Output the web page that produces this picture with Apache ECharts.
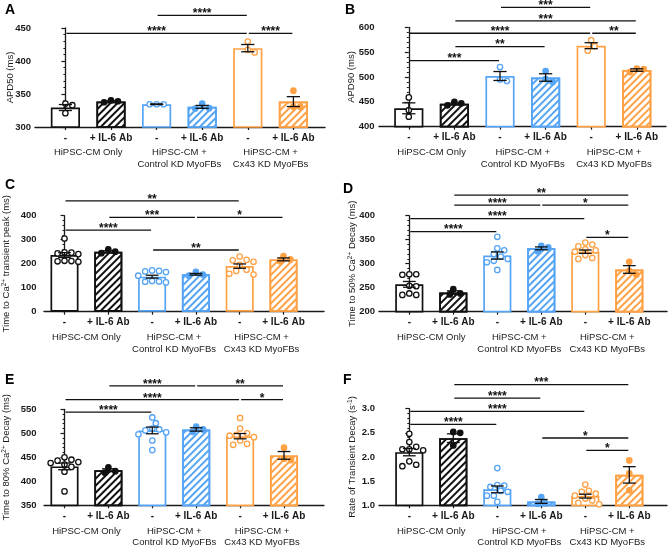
<!DOCTYPE html>
<html><head><meta charset="utf-8">
<script src="https://cdn.jsdelivr.net/npm/echarts@6/dist/echarts.min.js"></script>
<style>html,body{margin:0;padding:0;background:#fff}#c{width:669px;height:547px}</style>
</head><body><div id="c"></div>
<script>
// ---------------- DATA ----------------
const categories = ['-', '+ IL-6 Ab', '-', '+ IL-6 Ab', '-', '+ IL-6 Ab'];
const groups = ['HiPSC-CM Only', 'HiPSC-CM +\nControl KD MyoFBs', 'HiPSC-CM +\nCx43 KD MyoFBs'];

// A: APD50
const apd50Ticks = [300, 350, 400, 450];
const apd50Mean = [329.5, 338.5, 334.5, 330.5, 419.5, 338.5];
const apd50Sem = [4.5, 1.2, 0.5, 2.2, 5.5, 7.5];
const apd50Points = [[335.5, 333, 321], [340.5, 339, 337.5], [334.5, 334.5, 334.5], [335.5, 328, 328.5], [429.5, 417, 413], [355, 330.5, 330.5]];
const apd50Sig = [[2, 4, 469, '****'], [0, 4, 442, '****'], [4, 5, 442, '****']];

// B: APD90
const apd90Ticks = [400, 450, 500, 550, 600];
const apd90Mean = [437, 446, 502, 499, 563, 514];
const apd90Sem = [11, 1.5, 9, 7.5, 6, 2.5];
const apd90Points = [[459, 433, 420], [450, 447, 443], [520, 495, 492], [512, 496, 490], [574, 562, 553], [517, 516, 510]];
const apd90Sig = [[2, 4, 640, '***'], [1, 5, 613, '***'], [0, 4, 588, '****'], [4, 5, 588, '**'], [1, 3, 561, '**'], [0, 2, 533, '***']];

// C: Time to Ca2+ transient peak
const peakTicks = [0, 100, 200, 300, 400];
const peakMean = [236, 250, 146, 156, 190, 218];
const peakSem = [10, 4, 6, 3.5, 9, 6];
const peakPoints = [
  [305, 246, 243, 240, 247, 210, 208, 212, 211],
  [260, 250, 244],
  [172, 168, 165, 170, 150, 125, 122, 128, 126],
  [166, 155, 150],
  [230, 216, 214, 208, 195, 175, 170, 158, 155],
  [232, 218, 210]
];
const peakSig = [[0, 4, 462, '**'], [1, 3, 393, '***'], [3, 5, 393, '*'], [0, 2, 340, '****'], [2, 4, 257, '**']];

// D: Time to 50% Ca2+ decay
const decay50Ticks = [200, 250, 300, 350, 400];
const decay50Mean = [257, 240, 317, 332, 325, 288];
const decay50Sem = [6, 3.5, 7.5, 3, 3.5, 8];
const decay50Points = [
  [278, 277, 278, 254, 253, 235, 238, 235],
  [247, 238, 236],
  [356, 332, 328, 320, 315, 310, 306, 303, 287],
  [337, 334, 326],
  [344, 340, 336, 330, 328, 325, 322, 318, 312, 310],
  [304, 285, 277]
];
const decay50Sig = [[1, 5, 443, '**'], [1, 3, 422, '****'], [3, 5, 422, '*'], [0, 4, 394, '****'], [0, 2, 367, '****'], [4, 5, 355, '*']];

// E: Time to 80% Ca2+ decay
const decay80Ticks = [350, 400, 450, 500, 550];
const decay80Mean = [431, 423, 506, 508, 494, 454];
const decay80Sem = [7, 3, 7, 3.5, 5.5, 8];
const decay80Points = [
  [450, 445, 443, 440, 438, 435, 430, 420, 379],
  [429, 421, 418],
  [533, 521, 510, 508, 506, 502, 498, 485, 465],
  [514, 508, 503],
  [532, 510, 500, 497, 495, 492, 485, 478, 476],
  [470, 447, 444]
];
const decay80Sig = [[1, 3, 599, '****'], [3, 5, 599, '**'], [0, 4, 570, '****'], [4, 5, 570, '*'], [0, 2, 544, '****']];

// F: Rate of transient decay
const rateTicks = [1.0, 1.5, 2.0, 2.5, 3.0];
const rateMean = [2.10, 2.39, 1.33, 1.08, 1.19, 1.63];
const rateSem = [0.075, 0.09, 0.07, 0.04, 0.04, 0.17];
const ratePoints = [
  [2.48, 2.31, 2.21, 2.16, 2.16, 2.14, 1.91, 1.81, 1.84],
  [2.52, 2.50, 2.24],
  [1.77, 1.42, 1.41, 1.38, 1.30, 1.28, 1.20, 1.20, 1.07],
  [1.17, 1.05, 1.03],
  [1.43, 1.30, 1.28, 1.24, 1.20, 1.14, 1.10, 1.05, 1.02],
  [1.93, 1.66, 1.31]
];
const rateSig = [[1, 5, 3.50, '***'], [1, 3, 3.22, '****'], [0, 4, 2.945, '****'], [0, 2, 2.676, '****'], [3, 5, 2.393, '*'], [4, 5, 2.138, '*']];

// ---------------- STYLE / LAYOUT ----------------
const FONT = '"Liberation Sans", Arial, Helvetica, sans-serif';
const INK = '#1a1a1a';
const BLACK = '#111111', BLUE = '#55a4f5', ORANGE = '#ffa144';
const barColors = [BLACK, BLACK, BLUE, BLUE, ORANGE, ORANGE];
const barHatched = [false, true, false, true, false, true];

const panels = [
  { letter: 'A', name: 'APD50 (ms)', ticks: apd50Ticks, mean: apd50Mean, sem: apd50Sem, pts: apd50Points, sig: apd50Sig, dec: 0 },
  { letter: 'B', name: 'APD90 (ms)', ticks: apd90Ticks, mean: apd90Mean, sem: apd90Sem, pts: apd90Points, sig: apd90Sig, dec: 0 },
  { letter: 'C', name: 'Time to Ca{sup|2+} transient peak (ms)', ticks: peakTicks, mean: peakMean, sem: peakSem, pts: peakPoints, sig: peakSig, dec: 0 },
  { letter: 'D', name: 'Time to 50% Ca{sup|2+} Decay (ms)', ticks: decay50Ticks, mean: decay50Mean, sem: decay50Sem, pts: decay50Points, sig: decay50Sig, dec: 0 },
  { letter: 'E', name: 'Time to 80% Ca{sup|2+} Decay (ms)', ticks: decay80Ticks, mean: decay80Mean, sem: decay80Sem, pts: decay80Points, sig: decay80Sig, dec: 0 },
  { letter: 'F', name: 'Rate of Transient Decay (s{sup|-1})', ticks: rateTicks, mean: rateMean, sem: rateSem, pts: ratePoints, sig: rateSig, dec: 1 }
];
const layouts = [
  { axisX: 35, rightX: 325, top: 28, bottom: 127, c0: 65.4, sp: 45.6, nameGap: 19.5, labMargin: 4, lx: 5, ly: 3 },
  { axisX: 379, rightX: 666, top: 27.3, bottom: 126.7, c0: 408.8, sp: 45.6, nameGap: 22.5, labMargin: 4.5, lx: 345, ly: 3 },
  { axisX: 44, rightX: 324, top: 215.7, bottom: 311.7, c0: 64.5, sp: 43.8, nameGap: 32.5, labMargin: 7.5, lx: 5, ly: 178 },
  { axisX: 379, rightX: 667, top: 215.7, bottom: 311.7, c0: 409.3, sp: 44, nameGap: 21.5, labMargin: 4, lx: 343, ly: 182 },
  { axisX: 44, rightX: 324, top: 409.3, bottom: 505.3, c0: 64.5, sp: 43.9, nameGap: 32.5, labMargin: 7.5, lx: 5, ly: 373 },
  { axisX: 379, rightX: 667, top: 408.7, bottom: 505.3, c0: 409.3, sp: 44, nameGap: 21.5, labMargin: 4, lx: 343, ly: 373 }
];

// simple beeswarm layout of dots (pixel-space offsets -> x units)
function swarm(vals, pxPerY, sp, idx) {
  const d = 6.3, step = d * 0.55, maxOff = sp * 0.32;
  const order = vals.map((v, j) => j).sort((a, b) => vals[b] - vals[a]);
  const placed = [], out = [];
  order.forEach(j => {
    const y = vals[j] * pxPerY;
    let chosen = 0;
    for (let k = 0; k < 30; k++) {
      const off = (k % 2 ? 1 : -1) * Math.ceil(k / 2) * step;
      if (Math.abs(off) > maxOff) continue;
      const ok = placed.every(q => (q.x - off) ** 2 + (q.y - y) ** 2 >= d * d);
      if (ok) { chosen = off; break; }
    }
    placed.push({ x: chosen, y: y });
    out[j] = [idx + chosen / sp, vals[j]];
  });
  return out;
}

const option = { animation: false, textStyle: { fontFamily: FONT }, grid: [], xAxis: [], yAxis: [], series: [], graphic: [] };

panels.forEach((p, k) => {
  const L = layouts[k];
  const ymin = p.ticks[0], ymax = p.ticks[p.ticks.length - 1], interval = p.ticks[1] - p.ticks[0];
  const g = option.grid.length;
  const h = L.bottom - L.top;
  option.grid.push({ left: L.axisX, top: L.top, width: L.rightX - L.axisX, height: h, containLabel: false, outerBoundsMode: 'none' });
  option.grid.push({ left: L.c0 - L.sp / 2, top: L.top, width: 6 * L.sp, height: h, containLabel: false, outerBoundsMode: 'none' });
  const xa = option.xAxis.length;
  option.xAxis.push({ type: 'value', gridIndex: g, min: (L.axisX - L.c0) / L.sp, max: (L.rightX - L.c0) / L.sp,
    axisLine: { show: true, onZero: false, lineStyle: { color: INK, width: 1.3 } }, axisTick: { show: false }, axisLabel: { show: false }, splitLine: { show: false } });
  option.xAxis.push({ type: 'category', gridIndex: g + 1, data: categories, position: 'bottom',
    axisLine: { show: false }, axisTick: { show: true, alignWithLabel: true, length: 3, lineStyle: { color: INK, width: 1.2 } },
    axisLabel: { interval: 0, fontSize: 10, fontWeight: 'bold', color: INK, margin: 6, fontFamily: FONT }, splitLine: { show: false } });
  option.xAxis.push({ type: 'category', gridIndex: g + 1, data: groups, position: 'bottom', offset: 16,
    axisLine: { show: false }, axisTick: { show: false },
    axisLabel: { interval: 0, fontSize: 9.5, lineHeight: 11.5, color: INK, margin: 4, fontFamily: FONT }, splitLine: { show: false } });
  const ya = option.yAxis.length;
  option.yAxis.push({ type: 'value', gridIndex: g, min: ymin, max: ymax, interval: interval,
    name: p.name, nameLocation: 'middle', nameGap: L.nameGap, nameMoveOverlap: false,
    nameTextStyle: { fontSize: 9.5, color: INK, fontFamily: FONT, lineHeight: 11,
      rich: { sup: { fontSize: 6.5, verticalAlign: 'top', lineHeight: 8, color: INK, fontFamily: FONT } } },
    axisLine: { show: true, lineStyle: { color: INK, width: 1.3 } },
    axisTick: { show: true, length: 4, lineStyle: { color: INK, width: 1.2 } },
    minorTick: { show: true, splitNumber: 5, length: 2, lineStyle: { color: INK, width: 1 } },
    axisLabel: { fontSize: 9.5, fontWeight: 'bold', color: INK, margin: L.labMargin, fontFamily: FONT, formatter: v => v.toFixed(p.dec) },
    splitLine: { show: false }, minorSplitLine: { show: false } });
  option.yAxis.push({ type: 'value', gridIndex: g + 1, min: ymin, max: ymax, show: false });

  // bars
  option.series.push({ type: 'bar', xAxisIndex: xa + 1, yAxisIndex: ya + 1, barWidth: '64%', z: 2,
    data: p.mean.map((v, i) => {
      const st = { color: '#ffffff', borderColor: barColors[i], borderWidth: 1.7 };
      if (barHatched[i]) st.decal = { symbol: 'rect', symbolSize: 1, color: barColors[i], dashArrayX: [1, 0], dashArrayY: [1.8, 2.6], rotation: -Math.PI / 4 };
      return { value: v, itemStyle: st };
    }) });

  // dots
  const pxPerY = h / (ymax - ymin);
  p.pts.forEach((vals, i) => {
    option.series.push({ type: 'scatter', xAxisIndex: xa, yAxisIndex: ya, symbol: 'circle', symbolSize: 5.4, z: 3,
      itemStyle: { color: barHatched[i] ? barColors[i] : '#ffffff', borderColor: barColors[i], borderWidth: 1.3, opacity: 1 },
      data: swarm(vals, pxPerY, L.sp, i) });
  });

  // error bars (mean +/- SEM)
  option.series.push({ type: 'custom', xAxisIndex: xa, yAxisIndex: ya, z: 4, clip: false,
    data: p.mean.map((m, i) => [i, m, p.sem[i]]),
    renderItem: (params, api) => {
      const i = api.value(0), m = api.value(1), s = api.value(2);
      const t = api.coord([i, m + s]), b = api.coord([i, m - s]);
      const hw = L.sp * 0.145;
      const st = { stroke: '#111', lineWidth: 1.3 };
      return { type: 'group', children: [
        { type: 'line', shape: { x1: t[0], y1: t[1], x2: b[0], y2: b[1] }, style: st },
        { type: 'line', shape: { x1: t[0] - hw, y1: t[1], x2: t[0] + hw, y2: t[1] }, style: st },
        { type: 'line', shape: { x1: b[0] - hw, y1: b[1], x2: b[0] + hw, y2: b[1] }, style: st }
      ] };
    } });

  // significance brackets
  option.series.push({ type: 'custom', xAxisIndex: xa, yAxisIndex: ya, z: 5, clip: false,
    data: p.sig.map(s => [s[0], s[1], s[2]]),
    renderItem: (params, api) => {
      const a = api.coord([api.value(0), api.value(2)]), b = api.coord([api.value(1), api.value(2)]);
      const label = p.sig[params.dataIndex][3];
      return { type: 'group', children: [
        { type: 'line', shape: { x1: a[0] + 1, y1: a[1], x2: b[0] - 1, y2: b[1] }, style: { stroke: '#111', lineWidth: 1.3 } },
        { type: 'text', x: (a[0] + b[0]) / 2, y: a[1] - 1.5, style: { text: label, fill: '#111', font: 'bold 12px ' + FONT, align: 'center', verticalAlign: 'middle' } }
      ] };
    } });

  option.graphic.push({ type: 'text', left: L.lx, top: L.ly, style: { text: p.letter, fill: '#000', font: 'bold 14px ' + FONT } });
});

const chart = echarts.init(document.getElementById('c'), null, { renderer: 'canvas' });
chart.setOption(option);
</script>
</body></html>
